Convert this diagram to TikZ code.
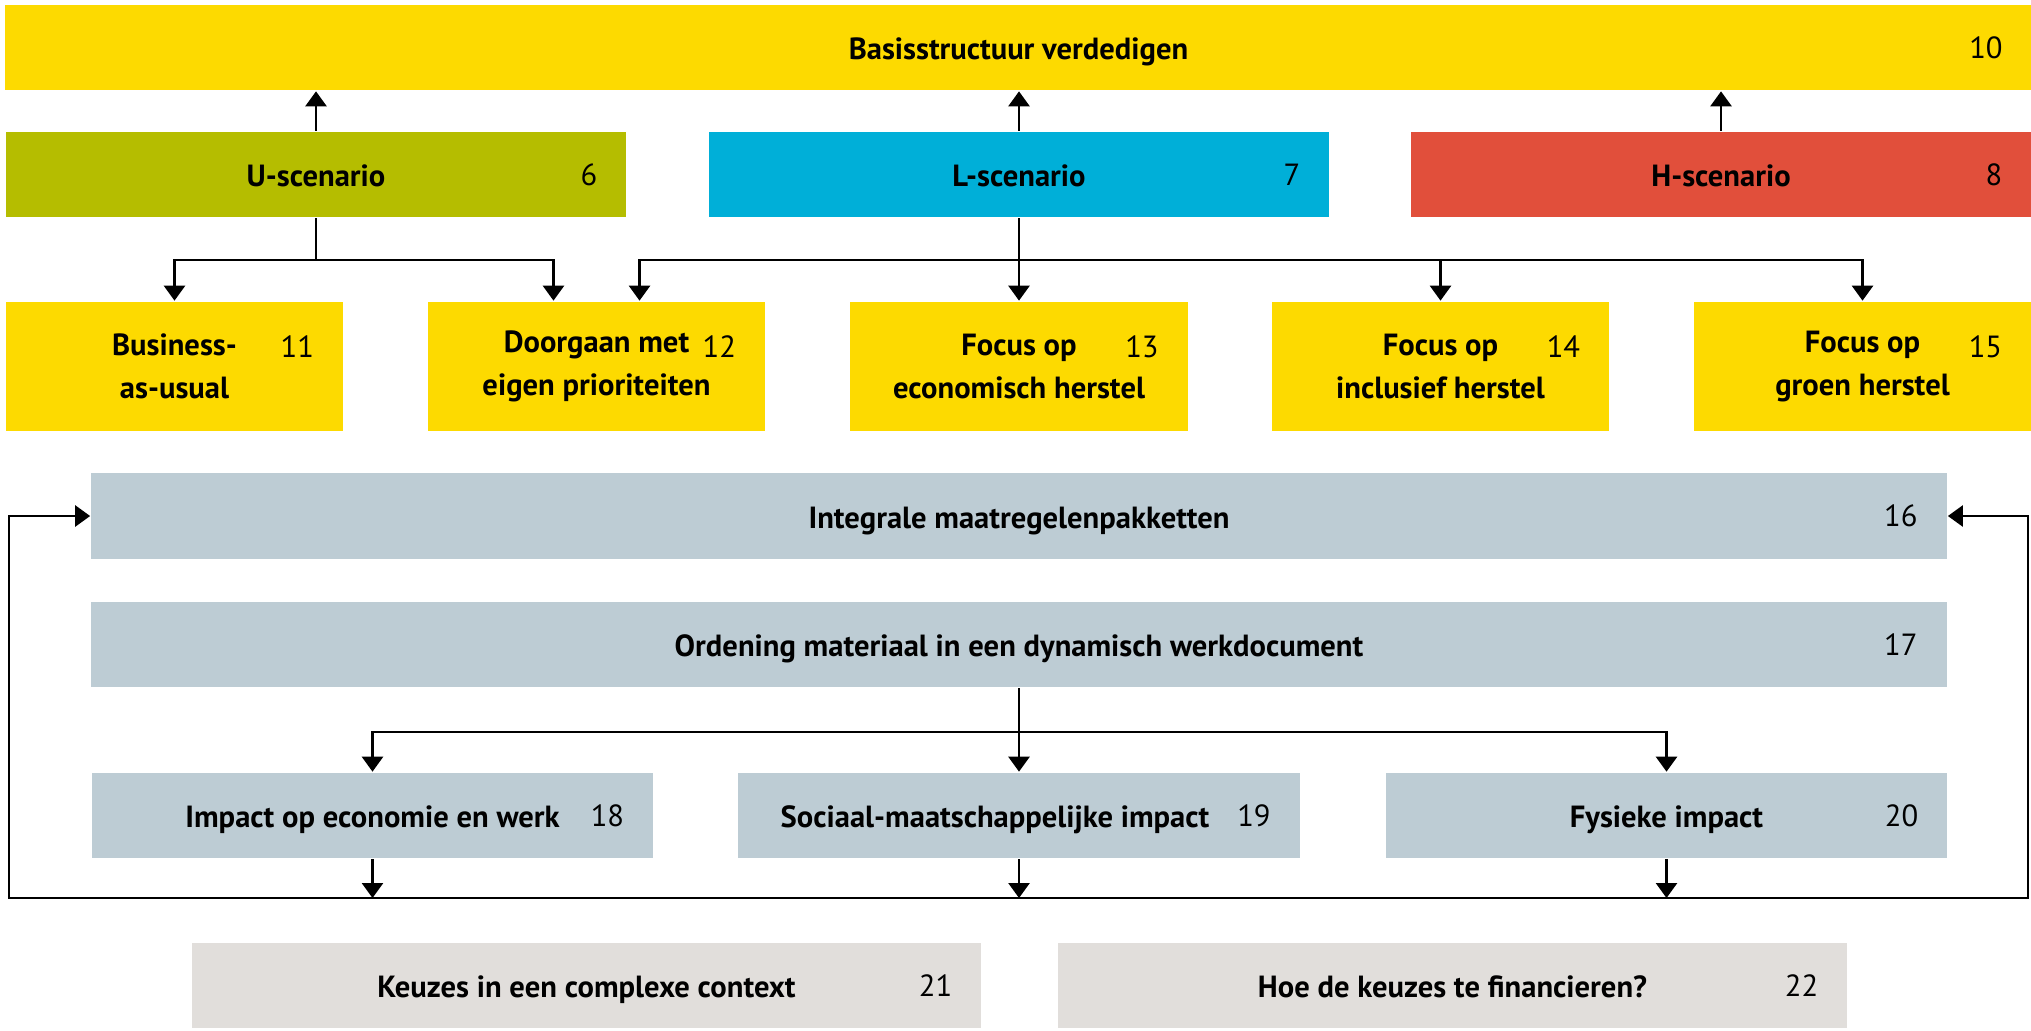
\documentclass[tikz,border=0pt]{standalone}
\usepackage{fontspec}
\setmainfont{PT Sans}
\usetikzlibrary{arrows.meta}
\definecolor{geel}{HTML}{FDDA00}
\definecolor{olijf}{HTML}{B5BD00}
\definecolor{blauw}{HTML}{00AFD8}
\definecolor{rood}{HTML}{E14F3B}
\definecolor{grijsblauw}{HTML}{BDCCD4}
\definecolor{lichtgrijs}{HTML}{E1DEDB}
\begin{document}
\begin{tikzpicture}[x=0.01cm,y=-0.01cm,line width=0.75pt,>={Triangle[width=0.21cm,length=0.15cm]},
  vak/.style={rectangle,inner sep=0pt,minimum height=0.85cm,align=center,font=\fontsize{8.7}{12.2}\selectfont\bfseries},
  balk/.style={vak,text height=0.7em,text depth=0pt},
  nr/.style={anchor=east,xshift=-0.29cm,inner sep=0pt,font=\fontsize{8.7}{12.2}\selectfont}]
\useasboundingbox (0,0) rectangle (2031,1030);
\node[balk,fill=geel,minimum width=20.25cm,label={[nr]east:10}] (basis) at (1018.5,47.5) {Basisstructuur verdedigen};
\node[balk,fill=olijf,minimum width=6.2cm,label={[nr]east:6}] (u) at (316,174.5) {U-scenario};
\node[balk,fill=blauw,minimum width=6.2cm,label={[nr]east:7}] (l) at (1019,174.5) {L-scenario};
\node[balk,fill=rood,minimum width=6.2cm,label={[nr]east:8}] (h) at (1721,174.5) {H-scenario};
\node[vak,fill=geel,minimum width=3.37cm,minimum height=1.29cm,label={[nr,yshift=0.2cm]east:11}] (b11) at (174.5,366.5) {Business-\\as-usual};
\node[vak,fill=geel,minimum width=3.37cm,minimum height=1.29cm,label={[nr,yshift=0.2cm]east:12}] (b12) at (596.5,366.5) {Doorgaan met\\eigen prioriteiten};
\node[vak,fill=geel,minimum width=3.37cm,minimum height=1.29cm,label={[nr,yshift=0.2cm]east:13}] (b13) at (1019,366.5) {Focus op\\economisch herstel};
\node[vak,fill=geel,minimum width=3.37cm,minimum height=1.29cm,label={[nr,yshift=0.2cm]east:14}] (b14) at (1440.5,366.5) {Focus op\\inclusief herstel};
\node[vak,fill=geel,minimum width=3.37cm,minimum height=1.29cm,label={[nr,yshift=0.2cm]east:15}] (b15) at (1862.5,366.5) {Focus op\\groen herstel};
\draw[->] (u.north) -- (u.north |- basis.south);
\draw[->] (l.north) -- (l.north |- basis.south);
\draw[->] (h.north) -- (h.north |- basis.south);
\coordinate (usplit) at (316,260);
\coordinate (lsplit) at (1019,260);
\draw (u.south) -- (usplit);
\draw[->] (usplit) -| (b11.north);
\draw[->] (usplit) -| ([xshift=-0.43cm]b12.north);
\draw[->] (l.south) -- (b13.north);
\draw[->] (lsplit) -| ([xshift=0.43cm]b12.north);
\draw[->] (lsplit) -| (b14.north);
\draw[->] (lsplit) -| (b15.north);
\node[balk,fill=grijsblauw,minimum width=18.54cm,label={[nr]east:16}] (b16) at (1019,516) {Integrale maatregelenpakketten};
\node[balk,fill=grijsblauw,minimum width=18.54cm,label={[nr]east:17}] (b17) at (1019,644.5) {Ordening materiaal in een dynamisch werkdocument};
\node[balk,fill=grijsblauw,minimum width=5.61cm,label={[nr]east:18}] (b18) at (372.5,815.5) {Impact op economie en werk};
\node[balk,fill=grijsblauw,minimum width=5.61cm,label={[nr]east:19}] (b19) at (1019,815.5) {\hspace*{-0.48cm}Sociaal-maatschappelijke impact};
\node[balk,fill=grijsblauw,minimum width=5.61cm,label={[nr]east:20}] (b20) at (1666.5,815.5) {Fysieke impact};
\coordinate (osplit) at (1019,732);
\draw (b17.south) -- (osplit);
\draw[->] (osplit) -| (b18.north);
\draw[->] (osplit) -- (b19.north);
\draw[->] (osplit) -| (b20.north);
\coordinate (lusL) at (9,898);
\coordinate (lusR) at (2028,898);
\draw[<->] (b16.west) -| (lusL) -- (lusR) |- (b16.east);
\draw[->] (b18.south) -- (b18.south |- lusL);
\draw[->] (b19.south) -- (b19.south |- lusL);
\draw[->] (b20.south) -- (b20.south |- lusL);
\node[balk,fill=lichtgrijs,minimum width=7.89cm,label={[nr]east:21}] (b21) at (586.5,985.5) {Keuzes in een complexe context};
\node[balk,fill=lichtgrijs,minimum width=7.89cm,label={[nr]east:22}] (b22) at (1452.5,985.5) {Hoe de keuzes te financieren?};
\end{tikzpicture}
\end{document}
